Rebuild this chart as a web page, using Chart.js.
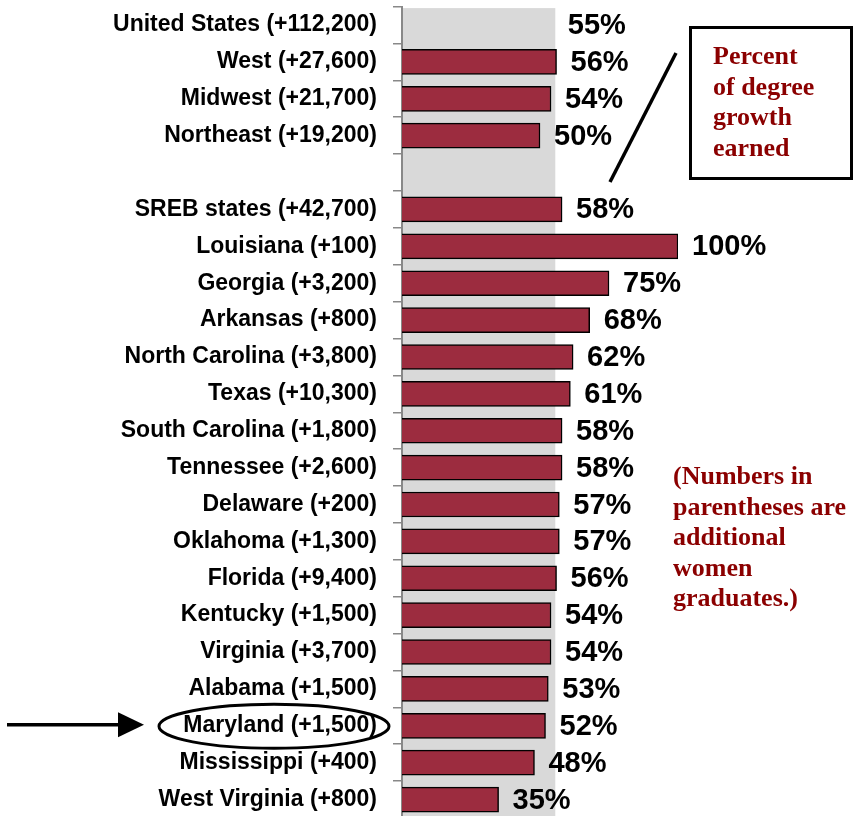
<!DOCTYPE html>
<html>
<head>
<meta charset="utf-8">
<script src="https://cdn.jsdelivr.net/npm/chart.js@4/dist/chart.umd.min.js"></script>
<style>
  body { margin: 0; background: #fff; }
  #wrap { position: relative; width: 854px; height: 816px; overflow: hidden; }
  #chartGrowth { position: absolute; left: 0; top: 0; }
  .note {
    position: absolute;
    font-family: 'Liberation Serif', 'Times New Roman', serif;
    font-weight: bold;
    font-size: 26px;
    line-height: 30.5px;
    color: #8B0000;
    white-space: nowrap;
  }
  #box {
    position: absolute; left: 689px; top: 26px; width: 164px; height: 154px;
    box-sizing: border-box; border: 3.5px solid #000;
  }
</style>
</head>
<body>
<div id="wrap">
  <canvas id="chartGrowth" width="854" height="818"></canvas>
  <div id="box"></div>
  <div class="note" style="left:713px; top:41px;">Percent<br>of degree<br>growth<br>earned</div>
  <div class="note" style="left:673px; top:461px;">(Numbers in<br>parentheses are<br>additional<br>women<br>graduates.)</div>
</div>
<script>
// datos: region, mujeres graduadas adicionales, % del crecimiento
const regiones = ['United States', 'West', 'Midwest', 'Northeast', '',
  'SREB states', 'Louisiana', 'Georgia', 'Arkansas', 'North Carolina', 'Texas',
  'South Carolina', 'Tennessee', 'Delaware', 'Oklahoma', 'Florida', 'Kentucky',
  'Virginia', 'Alabama', 'Maryland', 'Mississippi', 'West Virginia'];
const adicionales = ['+112,200', '+27,600', '+21,700', '+19,200', '',
  '+42,700', '+100', '+3,200', '+800', '+3,800', '+10,300',
  '+1,800', '+2,600', '+200', '+1,300', '+9,400', '+1,500',
  '+3,700', '+1,500', '+1,500', '+400', '+800'];
const porcentajes = [55, 56, 54, 50, null,
  58, 100, 75, 68, 62, 61,
  58, 58, 57, 57, 56, 54,
  54, 53, 52, 48, 35];

const etiquetas = regiones.map((r, i) => r ? r + ' (' + adicionales[i] + ')' : '');
const idxUS = 0;
const idxMaryland = regiones.indexOf('Maryland');

const colorBarra = '#9C2C3F';

// banda gris = promedio nacional
const bandaPlugin = {
  id: 'banda',
  beforeDatasetsDraw(chart) {
    const ctx = chart.ctx, x = chart.scales.x, area = chart.chartArea;
    ctx.save();
    ctx.fillStyle = '#D9D9D9';
    const x0 = x.getPixelForValue(0) + 1;
    const x1 = x.getPixelForValue(porcentajes[idxUS]) + 1.5;
    ctx.fillRect(x0, area.top + 1.5, x1 - x0, chart.height - area.top);
    ctx.restore();
  }
};

// etiquetas de valor
const valoresPlugin = {
  id: 'valores',
  afterDatasetsDraw(chart) {
    const ctx = chart.ctx, x = chart.scales.x, y = chart.scales.y;
    ctx.save();
    ctx.font = 'bold 29px "Liberation Sans", Arial, sans-serif';
    ctx.fillStyle = '#000';
    ctx.textAlign = 'left';
    ctx.textBaseline = 'middle';
    porcentajes.forEach((v, i) => {
      if (v === null) return;
      ctx.fillText(v + '%', x.getPixelForValue(v) + 14, y.getPixelForValue(i) + 1);
    });
    ctx.restore();
  }
};

// flecha, elipse y linea de la nota
const notasPlugin = {
  id: 'notas',
  afterDraw(chart) {
    const ctx = chart.ctx, y = chart.scales.y;
    const ym = y.getPixelForValue(idxMaryland) - 1;
    ctx.save();
    ctx.strokeStyle = '#000';
    ctx.fillStyle = '#000';
    ctx.lineWidth = 3.5;
    // linea diagonal hacia el recuadro
    ctx.beginPath();
    ctx.moveTo(676, 53);
    ctx.lineTo(610, 182);
    ctx.stroke();
    // flecha
    ctx.beginPath();
    ctx.moveTo(7, ym);
    ctx.lineTo(120, ym);
    ctx.stroke();
    ctx.beginPath();
    ctx.moveTo(118, ym - 12.5);
    ctx.lineTo(144, ym);
    ctx.lineTo(118, ym + 12.5);
    ctx.closePath();
    ctx.fill();
    // elipse Maryland
    ctx.lineWidth = 3;
    ctx.beginPath();
    ctx.ellipse(274, ym + 1.5, 115, 22, 0, 0, Math.PI * 2);
    ctx.stroke();
    ctx.restore();
  }
};

new Chart(document.getElementById('chartGrowth'), {
  type: 'bar',
  data: {
    labels: etiquetas,
    datasets: [{
      data: porcentajes,
      backgroundColor: porcentajes.map((v, i) => i === idxUS ? 'rgba(0,0,0,0)' : colorBarra),
      borderColor: porcentajes.map((v, i) => i === idxUS ? 'rgba(0,0,0,0)' : '#000'),
      borderWidth: 1.5,
      barThickness: 25
    }]
  },
  options: {
    indexAxis: 'y',
    responsive: false,
    animation: false,
    devicePixelRatio: 1,
    layout: { padding: { top: 6.6, right: 176, bottom: 0, left: 0 } },
    plugins: { legend: { display: false }, tooltip: { enabled: false } },
    scales: {
      x: { display: false, min: 0, max: 100 },
      y: {
        afterFit(scale) {
          scale.width = 402;
          scale.paddingTop = 0;
          scale.paddingBottom = 0;
        },
        border: { color: '#888', width: 2 },
        grid: { drawOnChartArea: false, drawTicks: true, tickLength: 9, color: '#888', lineWidth: 1.5, offset: true },
        ticks: {
          autoSkip: false,
          padding: 16,
          color: '#000',
          font: { family: '"Liberation Sans", Arial, sans-serif', size: 23, weight: 'bold' }
        }
      }
    }
  },
  plugins: [bandaPlugin, valoresPlugin, notasPlugin]
});
</script>
</body>
</html>
